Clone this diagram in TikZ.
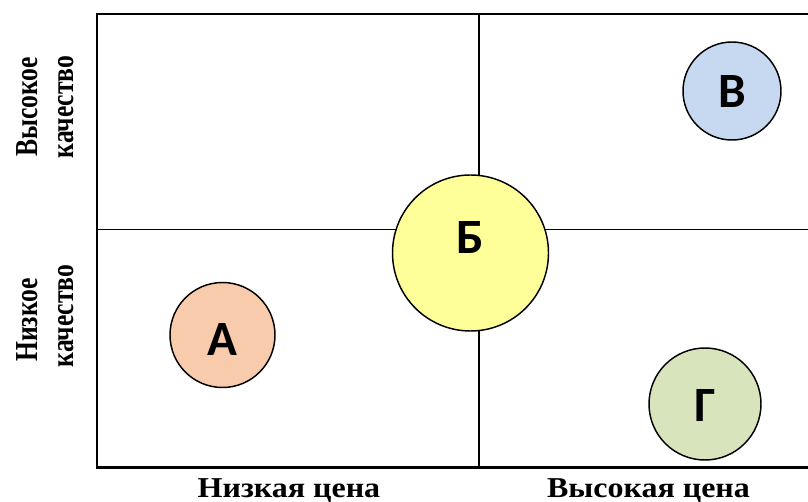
\documentclass[tikz,border=0pt]{standalone}
\usepackage{fontspec}
\setmainfont{Liberation Serif}
\newfontfamily\letterfont{Carlito}
\definecolor{cA}{HTML}{F8CBAD}
\definecolor{cB}{HTML}{FFFF99}
\definecolor{cV}{HTML}{C6D9F0}
\definecolor{cG}{HTML}{D7E4BC}
\newcommand{\sidetext}[1]{\scalebox{0.8}[1]{#1}}
\newcommand{\bottomtext}[1]{\scalebox{1}[0.9]{#1}}
\begin{document}
\begin{tikzpicture}[x=0.75pt,y=-0.75pt,
  frame/.style={line width=1.6pt},
  divider/.style={line width=1.1pt},
  bubble/.style={circle,draw,line width=1.1pt,inner sep=0pt},
  letter/.style={font=\letterfont\bfseries\fontsize{37}{40}\selectfont,inner sep=0pt},
  axislabel/.style={font=\bfseries\fontsize{24}{28}\selectfont,inner sep=0pt,anchor=base}]
\useasboundingbox (0,0) rectangle (808,502);
% frame
\coordinate (tl) at (97,14);
\coordinate (bl) at (97,467.5);
\coordinate (tr) at (812,14);
\coordinate (br) at (812,467.5);
\draw[frame] (tr) -- (tl) -- (bl) -- (br);
% dividers
\coordinate (vt) at (479,14);
\coordinate (vb) at (479,467.5);
\coordinate (hl) at (97,229.5);
\coordinate (hr) at (812,229.5);
\draw[divider] (vt) -- (vb);
\draw[divider] (hl) -- (hr);
% bubbles
\node[bubble,fill=cA,minimum size=105*0.75pt] (A) at (222.5,335) {};
\node[bubble,fill=cB,minimum size=156*0.75pt] (B) at (470.5,253) {};
\node[bubble,fill=cV,minimum size=98*0.75pt] (V) at (732,91) {};
\node[bubble,fill=cG,minimum size=112*0.75pt] (G) at (705,404) {};
\node[letter] (lA) at (222.5,340) {А};
\node[letter] (lB) at (470.5,238) {Б};
\node[letter] (lV) at (732,92) {В};
\node[letter] (lG) at (705,406) {Г};
% axis labels
\node[axislabel] (lowprice) at (289,498) {\bottomtext{Низкая цена}};
\node[axislabel] (highprice) at (648.5,498) {\bottomtext{Высокая цена}};
\node[axislabel,rotate=90] (hq1) at (37,107) {\sidetext{Высокое}};
\node[axislabel,rotate=90] (hq2) at (73,107) {\sidetext{качество}};
\node[axislabel,rotate=90] (lq1) at (37,320) {\sidetext{Низкое}};
\node[axislabel,rotate=90] (lq2) at (73,316) {\sidetext{качество}};
\end{tikzpicture}
\end{document}
